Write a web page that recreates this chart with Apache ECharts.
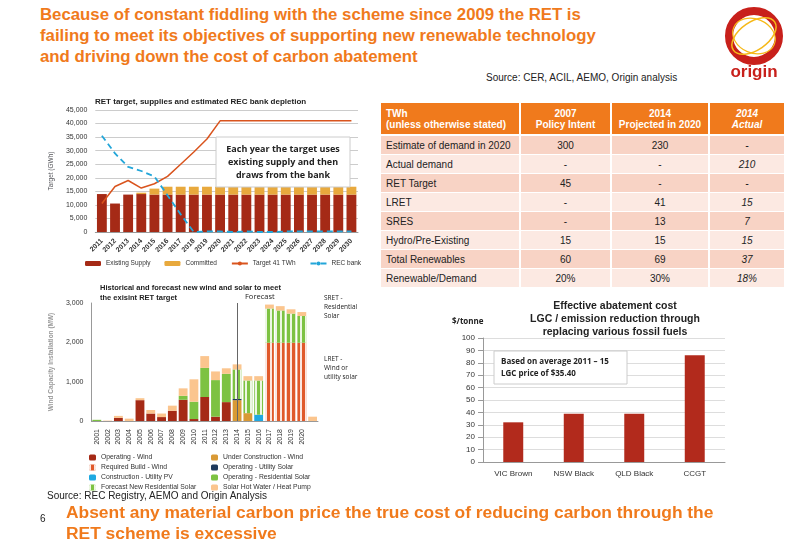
<!doctype html>
<html>
<head>
<meta charset="utf-8">
<title>RET</title>
<script src="https://cdn.jsdelivr.net/npm/echarts@6/dist/echarts.min.js"></script>
<style>
body{margin:0;width:800px;height:554px;position:relative;background:#fff;font-family:"Liberation Sans",Arial,sans-serif;overflow:hidden}
.abs{position:absolute}
h1{position:absolute;left:40px;top:4px;margin:0;font-size:16.8px;line-height:21px;color:#f07a1c;font-weight:bold;width:640px}
#tbl{left:381px;top:103px;border-collapse:collapse;font-size:10px;color:#222;table-layout:fixed;width:387px}
#tbl td{height:18px;padding:0 5px;border-right:2px solid #fff;border-bottom:1.6px solid #fff;white-space:nowrap}
#tbl th{background:#f07a1c;color:#fff;font-weight:bold;height:31px;font-size:10px;border-right:2px solid #fff;border-bottom:2px solid #fff;padding:0 5px;white-space:nowrap}
#tbl tr:nth-child(even) td{background:#f8d3c5}
#tbl tr:nth-child(odd) td{background:#fce9e2}
</style>
</head>
<body>
<h1>Because of constant fiddling with the scheme since 2009 the RET is<br>failing to meet its objectives of supporting new renewable technology<br>and driving down the cost of carbon abatement</h1>
<div class="abs" style="left:486px;top:72px;font-size:10px;color:#222">Source: CER, ACIL, AEMO, Origin analysis</div>
<div class="abs" style="left:718px;top:6px;width:72px;height:80px" id="logo"></div>
<div class="abs" id="c1" style="left:40px;top:90px;width:330px;height:185px"></div>
<div class="abs" id="c2" style="left:40px;top:278px;width:330px;height:220px"></div>
<div class="abs" id="c3" style="left:440px;top:292px;width:350px;height:198px"></div>
<table class="abs" id="tbl"></table>
<div class="abs" style="left:47px;top:490px;font-size:10px;color:#222">Source: REC Registry, AEMO and Origin Analysis</div>
<div class="abs" style="left:40px;top:513px;font-size:10px;color:#222">6</div>
<div class="abs" style="left:66px;top:502px;font-size:17.4px;line-height:21px;color:#f07a1c;font-weight:bold;width:720px">Absent any material carbon price the true cost of reducing carbon through the<br>RET scheme is excessive</div>
<script>
// chart 1
var years1 = ['2011','2012','2013','2014','2015','2016','2017','2018','2019','2020','2021','2022','2023','2024','2025','2026','2027','2028','2029','2030'];
var existingSupply = [14000,10500,13800,14000,13800,13800,13800,13800,13800,13800,13800,13800,13800,13800,13800,13800,13800,13800,13800,13800];
var committed = [0,0,0,500,2200,2900,2900,2900,2900,2900,2900,2900,2900,2900,2900,2900,2900,2900,2900,2900];
var target41 = [10500,16800,19000,16200,17800,20500,25000,29500,34300,41000,41000,41000,41000,41000,41000,41000,41000,41000,41000,41000];
var recBank = [35500,29000,24000,22500,20500,13500,6500,0,200,200,0,200,0,0,200,200,200,200,200,200];

// chart 2
var years2 = ['2001','2002','2003','2004','2005','2006','2007','2008','2009','2010','2011','2012','2013','2014','2015','2016','2017','2018','2019','2020',''];
var opWind =      [0,0,80,0,530,190,100,260,540,50,610,110,480,0,0,0,0,0,0,0,0];
var underConWind= [0,0,0,0,0,0,0,0,0,0,0,0,0,530,200,0,0,0,0,0,0];
var reqWind =     [0,0,0,0,0,0,0,0,0,0,0,0,0,0,0,0,1990,1990,1990,1990,0];
var opUtilSolar = [0,0,0,0,0,0,0,0,0,0,0,0,0,30,0,0,0,0,0,0,0];
var conUtilPV =   [0,0,0,0,0,0,0,0,0,0,0,0,0,0,0,160,0,0,0,0,0];
var opResSolar =  [30,0,0,0,0,0,0,0,100,440,740,930,720,0,0,0,0,0,0,0,0];
var fcResSolar =  [0,0,0,0,0,0,0,0,0,0,0,0,0,750,830,870,870,820,740,680,0];
var solarHW =     [0,10,50,60,50,90,90,130,190,570,300,220,140,130,110,110,100,110,110,100,110];

// chart 3
var fuels = ['VIC Brown','NSW Black','QLD Black','CCGT'];
var abatementCost = [32,39,39,86];

// table
var tblHead = ['TWh<br>(unless otherwise stated)','2007<br>Policy Intent','2014<br>Projected in 2020','<i>2014<br>Actual</i>'];
var tblRows = [
  ['Estimate of demand in 2020','300','230','-'],
  ['Actual demand','-','-','210'],
  ['RET Target','45','-','-'],
  ['LRET','-','41','15'],
  ['SRES','-','13','7'],
  ['Hydro/Pre-Existing','15','15','15'],
  ['Total Renewables','60','69','37'],
  ['Renewable/Demand','20%','30%','18%']
];

var t = document.getElementById('tbl');
var h = '<tr>' + tblHead.map(function(x,i){return '<th style="text-align:'+(i?'center':'left')+';width:'+[128,79,86,64][i]+'px">'+x+'</th>';}).join('') + '</tr>';
tblRows.forEach(function(r){
  h += '<tr>' + r.map(function(x,i){return '<td style="text-align:'+(i?'center':'left')+(i==3?';font-style:italic':'')+'">'+x+'</td>';}).join('') + '</tr>';
});
t.innerHTML = h;

var small = {fontSize:7, color:'#333'};

var ch1 = echarts.init(document.getElementById('c1'));
ch1.setOption({
  animation:false,
  title:{text:'RET target, supplies and estimated REC bank depletion',left:50,top:3,textStyle:{fontSize:8,fontWeight:'bold',color:'#222'}},
  grid:{left:46,right:12,top:20,bottom:43},
  legend:{bottom:3,left:40,itemWidth:16,itemHeight:5,itemGap:14,textStyle:{fontSize:6.5,color:'#333'},
    data:['Existing Supply','Committed','Target 41 TWh','REC bank']},
  xAxis:{type:'category',data:years1,axisLabel:Object.assign({rotate:45,interval:0,fontWeight:'bold'},small),axisTick:{show:false},axisLine:{lineStyle:{color:'#999'}}},
  yAxis:{type:'value',min:0,max:45000,interval:5000,name:'Target (GWh)',nameLocation:'middle',nameGap:36,nameTextStyle:{fontSize:6.5},
    axisLabel:Object.assign({formatter:function(v){return v.toLocaleString('en-US');}},small),splitLine:{lineStyle:{color:'#ccc'}}},
  series:[
    {name:'Existing Supply',type:'bar',stack:'s',data:existingSupply,barWidth:'75%',itemStyle:{color:'#a52a16'}},
    {name:'Committed',type:'bar',stack:'s',data:committed,itemStyle:{color:'#e8a93d'}},
    {name:'Target 41 TWh',type:'line',data:target41,symbol:'none',lineStyle:{color:'#d9541e',width:1.5},itemStyle:{color:'#d9541e'}},
    {name:'REC bank',type:'line',data:recBank,symbol:'none',lineStyle:{color:'#23a6d9',width:1.8,type:[6,4]},itemStyle:{color:'#23a6d9'}}
  ],
  graphic:[
    {type:'rect',x:176,y:47,z:10,shape:{width:134,height:50},style:{fill:'#fff',stroke:'#ccc'}},
    {type:'text',x:243,y:53,z:11,style:{text:'Each year the target uses\nexisting supply and then\ndraws from the bank',font:'bold 9px "Open Sans"',fill:'#222',align:'center',verticalAlign:'top',lineHeight:13}}
  ]
});

var stripes = {symbol:'rect',symbolSize:1,dashArrayX:[[1.2,2.4]],dashArrayY:[1,0],color:'rgba(255,255,255,0.85)'};
function bar(name,data,color,decal){
  return {name:name,type:'bar',stack:'w',data:data,barWidth:'82%',itemStyle:{color:color,decal:decal}};
}
var leg = {itemWidth:7,itemHeight:6,itemGap:3,orient:'vertical',bottom:2,textStyle:{fontSize:6.8,color:'#333'}};
var ch2 = echarts.init(document.getElementById('c2'));
ch2.setOption({
  animation:false,
  title:{text:'Historical and forecast new wind and solar to meet\nthe exisint RET target',left:55,top:0,
    textStyle:{fontSize:7.5,fontWeight:'bold',color:'#222',lineHeight:10}},
  grid:{left:42,right:52,top:25,bottom:77},
  legend:[
    Object.assign({left:44,data:['Operating - Wind','Required Build - Wind','Construction - Utility PV','Forecast New Residential Solar']},leg),
    Object.assign({left:166,data:['Under Construction - Wind','Operating - Utility Solar','Operating - Residential Solar','Solar Hot Water / Heat Pump']},leg)
  ],
  xAxis:{type:'category',data:years2,axisLabel:Object.assign({rotate:90,interval:0},small),axisTick:{show:false},axisLine:{lineStyle:{color:'#999'}}},
  yAxis:{type:'value',min:0,max:3000,interval:1000,name:'Wind Capacity Installation (MW)',nameLocation:'middle',nameGap:30,
    nameTextStyle:{fontSize:6.5,fontWeight:'bold'},axisLabel:Object.assign({formatter:function(v){return v.toLocaleString('en-US');}},small),splitLine:{show:false},axisLine:{show:true,lineStyle:{color:'#999'}}},
  series:[
    bar('Operating - Wind',opWind,'#a52a16'),
    bar('Under Construction - Wind',underConWind,'#d99a35'),
    bar('Required Build - Wind',reqWind,'#e0592a',stripes),
    bar('Operating - Utility Solar',opUtilSolar,'#1f3a5c'),
    bar('Construction - Utility PV',conUtilPV,'#1fa9e1'),
    bar('Operating - Residential Solar',opResSolar,'#7dc242'),
    bar('Forecast New Residential Solar',fcResSolar,'#7dc242',stripes),
    Object.assign(bar('Solar Hot Water / Heat Pump',solarHW,'#fbc58e'),{
      markLine:{symbol:'none',silent:true,label:{show:false},lineStyle:{color:'#666',type:'solid',width:1},data:[{xAxis:'2014'}]}})
  ],
  graphic:[
    {type:'text',left:205,top:15,style:{text:'Forecast',font:'7.5px "Open Sans"',fill:'#222'}},
    {type:'text',left:284,top:16,style:{text:'SRET -\nResidential\nSolar',font:'6.5px "Open Sans"',fill:'#222',lineHeight:9}},
    {type:'text',left:284,top:77,style:{text:'LRET -\nWind or\nutility solar',font:'6.5px "Open Sans"',fill:'#222',lineHeight:9}}
  ]
});

var ch3 = echarts.init(document.getElementById('c3'));
ch3.setOption({
  animation:false,
  title:{text:'Effective abatement cost\nLGC / emission reduction through\nreplacing various fossil fuels',left:'center',top:3,
    textStyle:{fontSize:10.5,fontWeight:'bold',color:'#222',lineHeight:13}},
  grid:{left:43,right:65,top:46,bottom:28},
  xAxis:{type:'category',data:fuels,axisLabel:{fontSize:8,color:'#333'},axisTick:{show:false},axisLine:{lineStyle:{color:'#999'}}},
  yAxis:{type:'value',min:0,max:100,interval:10,axisLabel:{fontSize:8,color:'#333'},splitLine:{lineStyle:{color:'#ddd'}},axisLine:{show:true,lineStyle:{color:'#999'}},axisTick:{show:true}},
  series:[{type:'bar',data:abatementCost,barWidth:'33%',itemStyle:{color:'#b22a1c'}}],
  graphic:[
    {type:'text',x:12,y:26,style:{text:'$/tonne',font:'bold 8px "Open Sans"',fill:'#222',verticalAlign:'top'}},
    {type:'rect',x:54,y:59,z:10,shape:{width:133,height:33},style:{fill:'#fff',stroke:'#ccc'}},
    {type:'text',x:61,y:64,z:11,style:{text:'Based on average 2011 – 15\nLGC price of $35.40',font:'bold 8px "Open Sans"',fill:'#222',lineHeight:12,verticalAlign:'top'}}
  ]
});

var lg = echarts.init(document.getElementById('logo'));
lg.setOption({
  animation:false,
  graphic:[
    {type:'circle',shape:{cx:36,cy:30,r:25},style:{fill:'none',stroke:'#c8201b',lineWidth:8}},
    {type:'ellipse',shape:{cx:36,cy:30,rx:25,ry:14},rotation:0.6,originX:36,originY:30,style:{fill:'none',stroke:'#f6b919',lineWidth:1.5}},
    {type:'ellipse',shape:{cx:36,cy:30,rx:22,ry:17},rotation:-0.4,originX:36,originY:30,style:{fill:'none',stroke:'#f6b919',lineWidth:1.2}},
    {type:'text',left:'center',top:58,style:{text:'origin',font:'bold 17px "Liberation Sans"',fill:'#c8201b'}}
  ]
});
</script>
</body>
</html>
